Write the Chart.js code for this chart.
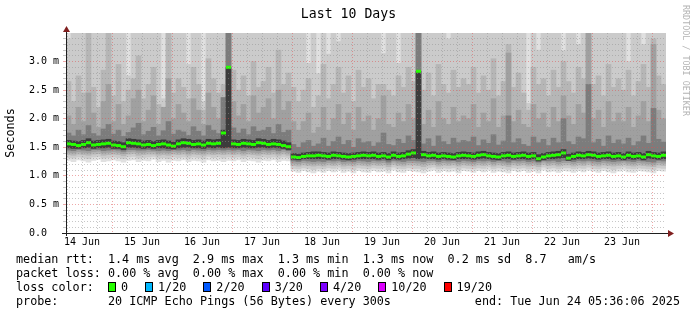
<!DOCTYPE html>
<html>
<head>
<meta charset="utf-8">
<script src="https://cdn.jsdelivr.net/npm/chart.js@4"></script>
<style>
  body { margin: 0; background: #fff; }
  #wrap { position: relative; width: 697px; height: 315px; background: #fff; overflow: hidden; }
  #wrap canvas { position: absolute; left: 0; top: 0; }
  .t { position: absolute; font-family: 'DejaVu Sans Mono', monospace; white-space: pre; color: #000; }
  .row { left: 16px; font-size: 11.75px; line-height: 14px; }
  .box { display: inline-block; width: 6px; height: 8px; border: 1px solid #000; vertical-align: -1px; margin-right: 5px; }
  .lbl { margin-right: 17px; }
</style>
</head>
<body>
<div id="wrap">
  <canvas id="smokeChart" width="697" height="315"></canvas>
  <div class="t" style="left:0;width:697px;top:6px;text-align:center;font-size:13.2px;line-height:16px;">Last 10 Days</div>
  <div class="t" style="left:681px;top:5px;writing-mode:vertical-rl;font-size:8.4px;line-height:10px;color:#b4b4b4;">RRDTOOL / TOBI OETIKER</div>
  <div class="t row" style="top:252px">median rtt:  1.4 ms avg  2.9 ms max  1.3 ms min  1.3 ms now  0.2 ms sd  8.7   am/s</div>
  <div class="t row" style="top:266px">packet loss: 0.00 % avg  0.00 % max  0.00 % min  0.00 % now</div>
  <div class="t row" id="lossRow" style="top:280px">loss color:  </div>
  <div class="t row" style="top:294px">probe:       20 ICMP Echo Pings (56 Bytes) every 300s</div>
  <div class="t row" style="top:294px;left:auto;right:17px">end: Tue Jun 24 05:36:06 2025</div>
</div>
<script>
// time axis: hours since 14 Jun 00:00, one bucket every 2 hours
var startHour = 5.6;
var bucketHours = 2;
var dayLabels = ['14 Jun', '15 Jun', '16 Jun', '17 Jun', '18 Jun', '19 Jun', '20 Jun', '21 Jun', '22 Jun', '23 Jun'];

// median rtt per bucket (ms)
var median = [
  1.56,1.55,1.53,1.55,1.58,1.54,1.55,1.56,1.57,1.54,
  1.53,1.51,1.58,1.57,1.56,1.54,1.55,1.53,1.55,1.56,
  1.54,1.52,1.56,1.58,1.57,1.55,1.56,1.54,1.57,1.56,
  1.57,1.75,2.90,1.56,1.55,1.57,1.56,1.55,1.58,1.57,
  1.55,1.56,1.55,1.53,1.51,1.33,1.32,1.34,1.35,1.35,
  1.36,1.35,1.34,1.36,1.35,1.34,1.33,1.34,1.35,1.36,
  1.35,1.36,1.34,1.35,1.33,1.36,1.34,1.35,1.38,1.40,
  2.83,1.37,1.35,1.36,1.34,1.35,1.34,1.33,1.35,1.36,
  1.35,1.34,1.36,1.37,1.35,1.34,1.33,1.35,1.36,1.34,
  1.35,1.36,1.34,1.35,1.30,1.33,1.35,1.36,1.37,1.40,
  1.31,1.34,1.36,1.35,1.37,1.36,1.34,1.35,1.36,1.34,
  1.35,1.33,1.36,1.34,1.35,1.33,1.37,1.35,1.34,1.36
];

// smoke bands, outermost (1) to innermost (6): low and high ping of each pair (ms)
var lo1 = [
  1.27,1.25,1.28,1.26,1.24,1.27,1.29,1.25,1.26,1.28,
  1.26,1.24,1.27,1.28,1.25,1.27,1.26,1.29,1.25,1.27,
  1.24,1.27,1.26,1.28,1.25,1.27,1.26,1.24,1.28,1.26,
  1.27,1.25,1.27,1.26,1.28,1.25,1.27,1.26,1.24,1.27,
  1.26,1.28,1.25,1.27,1.26,1.08,1.06,1.09,1.07,1.05,
  1.08,1.06,1.09,1.07,1.10,1.06,1.08,1.05,1.09,1.07,
  1.06,1.09,1.07,1.08,1.05,1.10,1.07,1.06,1.09,1.08,
  1.07,1.05,1.08,1.10,1.06,1.09,1.07,1.08,1.05,1.09,
  1.08,1.06,1.09,1.07,1.10,1.06,1.08,1.07,1.05,1.09,
  1.07,1.09,1.06,1.08,1.05,1.10,1.07,1.08,1.06,1.09,
  1.08,1.06,1.09,1.07,1.10,1.08,1.06,1.09,1.07,1.05,
  1.08,1.10,1.07,1.06,1.09,1.08,1.07,1.05,1.09,1.08
];
var hi1 = [
  3.5,3.5,3.5,3.5,3.5,3.5,3.5,3.5,3.5,3.5,
  3.5,3.5,3.5,3.5,3.5,3.5,3.5,3.5,3.5,3.5,
  3.5,3.5,3.5,3.5,3.5,3.5,3.5,3.5,3.5,3.5,
  3.5,3.5,3.5,3.5,3.5,3.5,3.5,3.5,3.5,3.5,
  3.5,3.5,3.5,3.5,3.5,3.5,3.5,3.5,3.5,3.5,
  3.5,3.5,3.5,3.5,3.5,3.5,3.5,3.5,3.5,3.5,
  3.5,3.5,3.5,3.5,3.5,3.5,3.5,3.5,3.5,3.5,
  3.5,3.5,3.5,3.5,3.5,3.5,3.5,3.5,3.5,3.5,
  3.5,3.5,3.5,3.5,3.5,3.5,3.5,3.5,3.5,3.5,
  3.5,3.5,3.5,3.5,3.5,3.5,3.5,3.5,3.5,3.5,
  3.5,3.5,3.5,3.5,3.5,3.5,3.5,3.5,3.5,3.5,
  3.5,3.5,3.5,3.5,3.5,3.5,3.5,3.5,3.5,3.5
];
var lo2 = [
  1.32,1.31,1.33,1.32,1.30,1.33,1.34,1.31,1.32,1.33,
  1.32,1.30,1.33,1.34,1.31,1.32,1.33,1.34,1.31,1.32,
  1.30,1.33,1.32,1.33,1.31,1.33,1.32,1.30,1.34,1.32,
  1.33,1.31,1.33,1.32,1.33,1.31,1.33,1.32,1.30,1.33,
  1.32,1.33,1.31,1.33,1.32,1.13,1.12,1.14,1.13,1.11,
  1.13,1.12,1.14,1.13,1.15,1.12,1.13,1.11,1.14,1.13,
  1.12,1.14,1.13,1.14,1.11,1.15,1.13,1.12,1.14,1.13,
  1.13,1.11,1.14,1.15,1.12,1.14,1.13,1.14,1.11,1.14,
  1.13,1.12,1.14,1.13,1.15,1.12,1.14,1.13,1.11,1.14,
  1.13,1.14,1.12,1.13,1.11,1.15,1.13,1.14,1.12,1.14,
  1.14,1.12,1.14,1.13,1.15,1.13,1.12,1.14,1.13,1.11,
  1.13,1.15,1.13,1.12,1.14,1.13,1.12,1.11,1.14,1.13
];
var hi2 = [
  3.40,3.50,3.50,3.50,3.50,3.50,3.50,3.50,3.50,3.50,
  3.50,3.50,2.75,3.50,3.50,3.50,3.50,3.50,3.50,2.35,
  3.50,3.50,3.50,3.50,2.95,3.50,3.50,2.30,3.50,3.50,
  3.50,3.50,3.50,3.50,3.50,3.50,3.50,3.50,3.50,3.50,
  3.50,3.50,3.50,3.50,3.50,3.50,3.50,3.50,2.97,3.50,
  2.79,3.50,3.13,3.50,3.35,3.50,3.50,3.50,3.50,3.50,
  3.50,3.50,3.50,3.14,3.50,3.50,2.97,3.50,3.50,3.50,
  3.50,3.50,3.50,3.50,3.50,3.50,3.40,3.50,3.50,3.50,
  3.50,3.50,3.50,3.50,3.50,3.50,3.50,3.50,3.50,3.50,
  3.50,3.50,2.27,3.50,3.20,3.50,3.50,3.50,3.50,3.19,
  3.50,3.50,3.30,3.50,3.50,3.50,3.50,3.50,3.50,3.50,
  3.50,3.50,3.00,3.50,3.50,3.30,3.50,3.50,3.50,3.50
];
var lo3 = [
  1.37,1.36,1.38,1.37,1.36,1.38,1.39,1.36,1.37,1.38,
  1.37,1.35,1.38,1.39,1.36,1.37,1.38,1.38,1.36,1.37,
  1.36,1.38,1.37,1.38,1.36,1.38,1.37,1.36,1.38,1.37,
  1.38,1.37,1.38,1.37,1.38,1.36,1.38,1.37,1.36,1.38,
  1.37,1.38,1.36,1.38,1.36,1.18,1.17,1.19,1.18,1.17,
  1.18,1.17,1.19,1.18,1.20,1.17,1.18,1.17,1.19,1.18,
  1.17,1.19,1.18,1.19,1.16,1.20,1.18,1.17,1.19,1.19,
  1.18,1.16,1.19,1.20,1.17,1.19,1.18,1.19,1.17,1.19,
  1.18,1.17,1.19,1.18,1.20,1.17,1.19,1.18,1.16,1.19,
  1.18,1.19,1.17,1.18,1.16,1.20,1.18,1.19,1.17,1.19,
  1.19,1.17,1.19,1.18,1.20,1.18,1.17,1.19,1.18,1.17,
  1.18,1.20,1.18,1.17,1.19,1.18,1.17,1.16,1.19,1.18
];
var hi3 = [
  2.65,2.30,2.75,2.45,3.50,2.55,2.20,2.85,3.50,2.40,
  2.95,2.30,2.50,2.70,3.10,2.35,2.60,2.90,2.25,2.20,
  3.50,2.45,2.70,2.55,2.35,2.90,2.60,2.15,3.05,2.70,
  2.45,2.60,3.50,2.85,2.50,2.75,2.40,3.00,2.55,2.65,
  2.90,2.45,3.20,2.60,2.80,2.55,2.30,2.50,2.70,2.20,
  2.40,2.95,2.35,2.60,2.90,2.45,2.75,2.30,2.85,2.55,
  2.70,2.35,2.60,2.60,2.50,2.40,2.75,2.55,2.90,2.65,
  3.50,2.50,2.80,2.40,2.95,2.60,2.45,2.85,2.55,2.70,
  2.60,2.90,2.45,2.75,2.50,3.05,2.40,2.65,3.30,2.55,
  2.80,2.45,2.15,2.90,2.60,2.70,2.40,2.85,2.55,3.00,
  2.65,2.45,2.90,2.70,3.50,2.60,2.75,2.40,2.95,2.55,
  2.70,2.50,2.85,2.40,2.65,2.95,2.55,3.40,2.75,2.60
];
var lo4 = [
  1.41,1.40,1.42,1.41,1.40,1.42,1.43,1.40,1.41,1.42,
  1.41,1.39,1.42,1.43,1.41,1.41,1.42,1.42,1.40,1.41,
  1.40,1.42,1.41,1.42,1.40,1.42,1.41,1.40,1.42,1.41,
  1.42,1.41,1.42,1.41,1.42,1.40,1.42,1.41,1.40,1.42,
  1.41,1.42,1.40,1.42,1.40,1.22,1.21,1.23,1.22,1.21,
  1.22,1.21,1.23,1.22,1.24,1.21,1.22,1.21,1.23,1.22,
  1.21,1.23,1.22,1.23,1.20,1.24,1.22,1.21,1.23,1.23,
  1.22,1.21,1.23,1.24,1.21,1.23,1.22,1.23,1.21,1.23,
  1.22,1.21,1.23,1.22,1.24,1.21,1.23,1.22,1.20,1.23,
  1.22,1.23,1.21,1.22,1.20,1.24,1.22,1.23,1.21,1.23,
  1.23,1.21,1.23,1.22,1.24,1.22,1.21,1.23,1.22,1.21,
  1.22,1.24,1.22,1.21,1.23,1.22,1.21,1.20,1.23,1.22
];
var hi4 = [
  2.05,1.90,2.20,1.95,2.45,2.10,1.85,2.30,2.60,1.95,
  2.25,1.90,2.05,2.35,2.50,1.95,2.15,2.40,1.90,2.20,
  2.70,2.00,2.25,2.10,1.95,2.35,2.15,1.90,2.45,2.20,
  2.00,2.37,3.50,2.30,2.05,2.25,1.95,2.40,2.10,2.20,
  2.35,2.00,2.50,2.15,2.30,1.95,1.80,1.95,2.10,1.75,
  1.85,2.20,1.80,2.00,2.25,1.90,2.10,1.80,2.20,1.95,
  2.05,1.80,2.00,2.40,1.90,1.85,2.10,1.95,2.25,2.00,
  3.50,1.90,2.15,1.85,2.30,2.00,1.90,2.20,1.95,2.05,
  2.00,2.25,1.85,2.10,1.95,2.35,1.85,2.05,3.15,1.95,
  2.15,1.90,1.85,2.25,2.00,2.10,1.85,2.20,1.95,2.40,
  2.05,1.90,2.25,2.10,3.50,2.00,2.15,1.85,2.30,1.95,
  2.10,1.95,2.20,1.85,2.05,2.30,1.95,3.30,2.15,2.00
];
var lo5 = [
  1.45,1.44,1.46,1.45,1.44,1.46,1.46,1.44,1.45,1.46,
  1.45,1.43,1.46,1.46,1.45,1.45,1.46,1.45,1.44,1.45,
  1.44,1.46,1.45,1.46,1.44,1.46,1.45,1.44,1.46,1.45,
  1.46,1.45,1.46,1.45,1.46,1.44,1.46,1.45,1.44,1.46,
  1.45,1.46,1.44,1.46,1.44,1.26,1.25,1.27,1.26,1.25,
  1.26,1.25,1.27,1.26,1.27,1.25,1.26,1.25,1.27,1.26,
  1.25,1.27,1.26,1.27,1.24,1.27,1.26,1.25,1.27,1.27,
  1.26,1.25,1.27,1.27,1.25,1.27,1.26,1.27,1.25,1.27,
  1.26,1.25,1.27,1.26,1.27,1.25,1.27,1.26,1.24,1.27,
  1.26,1.27,1.25,1.26,1.24,1.27,1.26,1.27,1.25,1.27,
  1.27,1.25,1.27,1.26,1.27,1.26,1.25,1.27,1.26,1.25,
  1.26,1.27,1.26,1.25,1.27,1.26,1.25,1.24,1.27,1.26
];
var hi5 = [
  1.75,1.70,1.80,1.72,1.88,1.74,1.70,1.82,1.90,1.73,
  1.80,1.69,1.76,1.84,1.92,1.72,1.78,1.85,1.70,1.79,
  1.95,1.73,1.80,1.77,1.71,1.86,1.78,1.70,1.88,1.80,
  1.74,2.37,3.50,1.84,1.75,1.82,1.72,1.86,1.78,1.80,
  1.85,1.74,1.90,1.76,1.80,1.55,1.50,1.58,1.62,1.52,
  1.56,1.66,1.52,1.60,1.68,1.55,1.62,1.50,1.65,1.58,
  1.60,1.52,1.58,1.75,1.55,1.53,1.64,1.57,1.70,1.62,
  3.50,1.56,1.65,1.52,1.70,1.60,1.55,1.66,1.58,1.62,
  1.60,1.68,1.53,1.63,1.57,1.72,1.54,1.61,2.05,1.58,
  1.65,1.55,1.52,1.68,1.58,1.64,1.53,1.66,1.58,2.00,
  1.60,1.55,1.68,1.65,2.60,1.58,1.64,1.52,1.70,1.57,
  1.63,1.56,1.66,1.53,1.60,1.70,1.57,2.18,1.64,1.59
];
var lo6 = [
  1.49,1.48,1.48,1.49,1.50,1.48,1.49,1.49,1.50,1.48,
  1.48,1.46,1.50,1.50,1.49,1.48,1.49,1.48,1.49,1.49,
  1.48,1.47,1.49,1.50,1.50,1.49,1.49,1.48,1.50,1.49,
  1.50,1.49,1.50,1.49,1.49,1.50,1.49,1.49,1.50,1.50,
  1.49,1.50,1.49,1.48,1.46,1.29,1.28,1.30,1.30,1.30,
  1.30,1.30,1.29,1.30,1.30,1.29,1.28,1.29,1.30,1.30,
  1.30,1.30,1.29,1.30,1.28,1.30,1.29,1.30,1.31,1.32,
  1.30,1.31,1.30,1.30,1.29,1.30,1.29,1.28,1.30,1.30,
  1.30,1.29,1.30,1.31,1.30,1.29,1.28,1.30,1.30,1.29,
  1.30,1.30,1.29,1.30,1.26,1.28,1.30,1.30,1.31,1.32,
  1.27,1.29,1.30,1.30,1.31,1.30,1.29,1.30,1.30,1.29,
  1.30,1.28,1.30,1.29,1.30,1.28,1.31,1.30,1.29,1.30
];
var hi6 = [
  1.62,1.61,1.60,1.62,1.65,1.61,1.62,1.63,1.64,1.61,
  1.60,1.58,1.65,1.64,1.63,1.61,1.62,1.60,1.62,1.63,
  1.61,1.59,1.63,1.65,1.64,1.62,1.63,1.61,1.64,1.63,
  1.64,1.80,2.90,1.63,1.62,1.64,1.63,1.62,1.65,1.64,
  1.62,1.64,1.63,1.61,1.58,1.39,1.38,1.40,1.41,1.42,
  1.42,1.41,1.40,1.42,1.41,1.40,1.39,1.40,1.41,1.42,
  1.41,1.42,1.40,1.41,1.39,1.42,1.40,1.41,1.44,1.46,
  2.83,1.43,1.41,1.42,1.40,1.41,1.40,1.39,1.41,1.42,
  1.41,1.40,1.42,1.43,1.41,1.40,1.39,1.41,1.42,1.40,
  1.41,1.42,1.40,1.41,1.37,1.39,1.41,1.42,1.43,1.46,
  1.38,1.40,1.42,1.41,1.43,1.42,1.40,1.41,1.42,1.40,
  1.41,1.39,1.42,1.40,1.41,1.39,1.43,1.41,1.40,1.42
];

// loss colour legend
var lossLabels = ['0', '1/20', '2/20', '3/20', '4/20', '10/20', '19/20'];
var lossColors = ['#26ff00', '#00b8ff', '#0059ff', '#5e00ff', '#7e00ff', '#dd00ff', '#ff0000'];

var GRID = 'rgba(143,143,143,0.5)';
var MGRID = 'rgba(222,80,80,0.5)';

var lossRow = document.getElementById('lossRow');
lossLabels.forEach(function(label, i) {
    var box = document.createElement('span');
    box.className = 'box';
    box.style.background = lossColors[i];
    lossRow.appendChild(box);
    var txt = document.createElement('span');
    txt.className = 'lbl';
    txt.textContent = label;
    lossRow.appendChild(txt);
});

function bucketX(i) {
    return startHour + bucketHours * (i + 0.5);
}

var bands = [
    {lo: lo1, hi: hi1, color: '#e0e0e0'},
    {lo: lo2, hi: hi2, color: '#cbcbcb'},
    {lo: lo3, hi: hi3, color: '#b6b6b6'},
    {lo: lo4, hi: hi4, color: '#a0a0a0'},
    {lo: lo5, hi: hi5, color: '#7c7c7c'},
    {lo: lo6, hi: hi6, color: '#3c3c3c'}
];

var datasets = [];
bands.forEach(function(band, k) {
    datasets.push({
        type: 'bar',
        data: band.lo.map(function(v, i) { return {x: bucketX(i), y: [v, band.hi[i]]}; }),
        backgroundColor: band.color,
        borderWidth: 0,
        grouped: false,
        barPercentage: 1,
        categoryPercentage: 1,
        order: bands.length - k   // inner bands drawn on top
    });
});
datasets.push({
    type: 'line',
    data: median.map(function(v, i) { return {x: bucketX(i), y: v}; }),
    showLine: false,
    pointStyle: 'line',
    pointRadius: 2.5,
    pointBorderWidth: 3,
    pointBorderColor: '#26ff00',
    order: 0
});

// axis lines with arrow heads, like rrdtool
var axisArrows = {
    id: 'axisArrows',
    afterDraw: function(chart) {
        var ctx = chart.ctx, a = chart.chartArea;
        var x0 = a.left + 0.5, y0 = a.bottom + 0.5;
        ctx.save();
        ctx.strokeStyle = '#1f1f1f';
        ctx.lineWidth = 1;
        ctx.beginPath();
        ctx.moveTo(x0, a.bottom + 3);
        ctx.lineTo(x0, a.top - 3);
        ctx.moveTo(a.left - 4, y0);
        ctx.lineTo(a.right + 4, y0);
        ctx.stroke();
        ctx.fillStyle = '#801f1f';
        ctx.beginPath();
        ctx.moveTo(x0, a.top - 7);
        ctx.lineTo(x0 - 3.5, a.top - 1);
        ctx.lineTo(x0 + 3.5, a.top - 1);
        ctx.closePath();
        ctx.fill();
        ctx.beginPath();
        ctx.moveTo(a.right + 8, y0);
        ctx.lineTo(a.right + 2, y0 - 3.5);
        ctx.lineTo(a.right + 2, y0 + 3.5);
        ctx.closePath();
        ctx.fill();
        ctx.restore();
    }
};

window.onload = function() {
    Chart.defaults.font.family = "'DejaVu Sans Mono', monospace";
    Chart.defaults.color = '#000';
    var ctx = document.getElementById('smokeChart').getContext('2d');
    var smokeChart = new Chart(ctx, {
        type: 'bar',
        data: { datasets: datasets },
        options: {
            responsive: false,
            devicePixelRatio: 1,
            animation: false,
            events: [],
            layout: { padding: { left: 0, right: 31, top: 33, bottom: 0 } },
            plugins: {
                legend: { display: false },
                tooltip: { enabled: false }
            },
            scales: {
                x: {
                    type: 'linear',
                    min: startHour,
                    max: startHour + 240,
                    offset: false,
                    afterFit: function(scale) { scale.height = 82; },
                    afterBuildTicks: function(axis) {
                        var t = [];
                        for (var h = 6; h <= 240; h += 6) t.push({value: h});
                        axis.ticks = t;
                    },
                    grid: {
                        offset: false,
                        z: 1,
                        drawTicks: false,
                        color: function(c) { return (c.tick && c.tick.value % 24 === 0) ? MGRID : GRID; }
                    },
                    border: { display: false, dash: [1, 2] },
                    ticks: {
                        autoSkip: false,
                        maxRotation: 0,
                        padding: 3,
                        font: { size: 10 },
                        callback: function(value) {
                            if (value % 24 === 12) return dayLabels[(value - 12) / 24];
                            return '';
                        }
                    }
                },
                y: {
                    min: 0,
                    max: 3.5,
                    afterFit: function(scale) { scale.width = 66; },
                    afterBuildTicks: function(axis) {
                        var t = [];
                        for (var i = 0; i <= 34; i++) t.push({value: i / 10});
                        axis.ticks = t;
                    },
                    grid: {
                        z: 1,
                        drawTicks: true,
                        tickLength: 3,
                        color: function(c) { return (c.tick && Math.round(c.tick.value * 10) % 5 === 0) ? MGRID : GRID; }
                    },
                    border: { display: false, dash: [1, 2] },
                    ticks: {
                        autoSkip: false,
                        padding: 4,
                        font: { size: 10 },
                        callback: function(value) {
                            var n = Math.round(value * 10);
                            if (n % 5 !== 0) return '';
                            return (n / 10).toFixed(1) + (n === 0 ? '  ' : ' m');
                        }
                    },
                    title: {
                        display: true,
                        text: 'Seconds',
                        padding: { top: 4, bottom: 0 },
                        font: { size: 11.75 }
                    }
                }
            }
        },
        plugins: [axisArrows]
    });
};
</script>
</body>
</html>
